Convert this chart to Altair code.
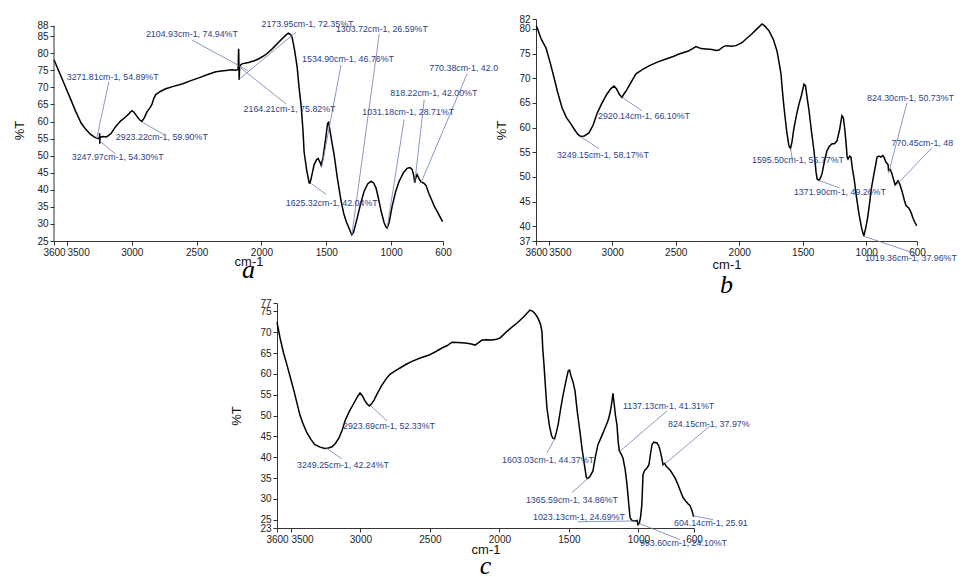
import altair as alt
import pandas as pd

XTICKS = [3600, 3500, 3000, 2500, 2000, 1500, 1000, 600]

# ---------------- panel a ----------------
A_WN = [3600, 3560, 3520, 3480, 3432, 3390, 3355, 3320, 3290, 3265, 3250, 3248, 3247, 3245,
        3225, 3195, 3160, 3125, 3085, 3046, 3015, 3000, 2985, 2960, 2940, 2923, 2905, 2882,
        2860, 2845, 2830, 2815, 2780, 2738, 2680, 2612, 2550, 2483, 2420, 2352, 2290, 2227,
        2195, 2180, 2176, 2172, 2168, 2150, 2100, 2050, 2020, 1970, 1917, 1860, 1812, 1793,
        1775, 1763, 1745, 1725, 1710, 1694, 1680, 1671, 1650, 1632, 1625, 1610, 1594, 1575,
        1563, 1550, 1540, 1525, 1505, 1490, 1482, 1470, 1455, 1440, 1415, 1386, 1365, 1347,
        1320, 1304, 1290, 1262, 1235, 1208, 1180, 1154, 1135, 1116, 1095, 1077, 1055, 1039,
        1031, 1015, 992, 965, 938, 905, 877, 855, 838, 825, 818, 810, 800, 785, 770, 750,
        731, 710, 684, 665, 645, 625, 607, 600]
A_T = [78.1, 74.5, 70.9, 67.3, 62.9, 59.5, 57.7, 56.3, 55.5, 55.0, 55.0, 56.6, 53.5, 55.3,
       55.6, 55.5, 56.5, 58.5, 60.2, 61.4, 62.6, 63.2, 62.8, 61.5, 60.5, 60.0, 61.0, 62.9,
       64.0, 65.0, 66.8, 67.9, 68.8, 69.6, 70.3, 71.0, 71.9, 72.8, 73.7, 74.6, 74.9, 75.2,
       75.0, 75.3, 81.3, 72.2, 76.3, 76.9, 77.3, 77.9, 78.4, 79.5, 81.3, 83.5, 85.3, 85.9,
       85.5, 84.6, 81.0, 76.0, 70.0, 64.5, 57.5, 51.0, 45.5, 42.0, 42.0, 44.5, 47.4, 48.8,
       49.2, 48.2, 47.2, 49.5, 55.0, 59.5, 59.8, 57.0, 53.5, 50.4, 43.5, 36.7, 33.0, 30.8,
       28.3, 26.8, 27.5, 31.7, 36.0, 39.6, 41.8, 42.5, 42.0, 40.5, 37.0, 33.7, 30.5, 29.0,
       28.8, 30.5, 35.2, 39.5, 42.5, 45.0, 46.3, 46.5, 46.0, 44.0, 42.0, 43.5, 44.5, 43.3,
       42.3, 42.0, 41.3, 39.0, 36.7, 35.0, 33.7, 32.2, 30.9, 30.8]
A_LABEL = ["3271.81cm-1, 54.89%T", "3247.97cm-1, 54.30%T", "2923.22cm-1, 59.90%T",
           "2104.93cm-1, 74.94%T", "2173.95cm-1, 72.35%T", "2164.21cm-1, 75.82%T",
           "1534.90cm-1, 46.76%T", "1625.32cm-1, 42.04%T", "1303.72cm-1, 26.59%T",
           "1031.18cm-1, 28.71%T", "818.22cm-1, 42.00%T", "770.38cm-1, 42.0"]
A_PWN = [3271.81, 3247.97, 2923.22, 2104.93, 2173.95, 2164.21, 1534.90, 1625.32, 1303.72, 1031.18, 818.22, 770.38]
A_PT = [54.89, 54.30, 59.90, 74.94, 72.35, 75.82, 46.76, 42.04, 26.59, 28.71, 42.00, 42.00]
A_LWN = [3502, 3463, 3123, 2891, 2000, 2138, 1687, 1813, 1426, 1223, 1006, 706]
A_LT = [73.1, 49.5, 55.6, 85.6, 88.6, 63.8, 78.4, 36.1, 87.1, 62.9, 68.4, 75.7]
A_EWN = [3177, 3123, 2753, 2537, 1734, 1811, 1386, 1502, 1092, 900, 745, 414]
A_ET = [71.6, 50.4, 56.2, 83.9, 86.2, 65.2, 76.6, 38.7, 85.6, 60.6, 66.4, 74.0]
A_YTICKS = [25, 30, 35, 40, 45, 50, 55, 60, 65, 70, 75, 80, 85, 88]

# ---------------- panel b ----------------
B_WN = [3600, 3592, 3560, 3521, 3490, 3458, 3430, 3395, 3360, 3324, 3300, 3270, 3249, 3220,
        3183, 3150, 3120, 3080, 3041, 3010, 2986, 2965, 2945, 2923, 2905, 2891, 2860, 2813,
        2760, 2710, 2640, 2576, 2520, 2474, 2400, 2340, 2300, 2260, 2214, 2180, 2159, 2130,
        2104, 2060, 2025, 1978, 1940, 1899, 1860, 1820, 1800, 1765, 1730, 1702, 1685, 1671,
        1660, 1647, 1625, 1608, 1596, 1585, 1569, 1549, 1529, 1510, 1490, 1478, 1465, 1450,
        1430, 1411, 1395, 1387, 1372, 1360, 1348, 1330, 1309, 1290, 1269, 1250, 1230, 1210,
        1191, 1180, 1168, 1159, 1150, 1143, 1130, 1120, 1108, 1096, 1077, 1057, 1035, 1019,
        1005, 990, 978, 960, 939, 925, 915, 900, 885, 870, 860, 845, 828, 824, 810, 797,
        785, 773, 760, 750, 735, 718, 700, 687, 665, 647, 630, 615, 605, 600]
B_T = [80.5, 80.3, 78.0, 76.1, 73.3, 70.1, 67.2, 64.0, 62.0, 60.7, 59.7, 58.6, 58.2, 58.3,
       58.9, 60.5, 62.8, 65.0, 66.8, 67.9, 68.4, 67.8, 66.8, 66.1, 66.9, 67.4, 68.8, 70.9,
       71.8, 72.5, 73.3, 73.9, 74.4, 74.9, 75.5, 76.4, 76.0, 75.9, 75.8, 75.6, 75.7, 76.3,
       76.6, 76.5, 76.6, 77.2, 78.1, 79.0, 80.0, 81.0, 80.6, 79.6, 77.8, 75.5, 73.0, 70.9,
       67.5, 64.0, 59.0, 56.2, 55.8, 57.0, 59.9, 62.5, 64.8, 66.5, 68.8, 68.5, 66.0, 63.4,
       59.0, 55.3, 51.0, 49.6, 49.3, 49.8, 50.6, 53.0, 55.3, 56.2, 56.7, 56.7, 57.3, 59.5,
       62.4, 62.0, 59.5, 57.0, 54.0, 53.6, 54.2, 54.0, 51.5, 49.8, 46.0, 42.5, 39.5, 38.0,
       39.5, 41.5, 43.7, 47.5, 50.6, 52.5, 54.0, 54.2, 54.0, 54.3, 54.0, 53.0, 52.5, 51.3,
       51.5, 50.6, 49.5, 48.4, 48.8, 49.2, 48.5, 47.1, 45.3, 44.2, 43.7, 42.8, 41.5, 40.7,
       40.2, 40.3]
B_LABEL = ["3249.15cm-1, 58.17%T", "2920.14cm-1, 66.10%T", "1595.50cm-1, 55.77%T",
           "1371.90cm-1, 49.26%T", "1019.36cm-1, 37.96%T", "824.30cm-1, 50.73%T",
           "770.45cm-1, 48"]
B_PWN = [3249.15, 2920.14, 1595.50, 1371.90, 1019.36, 824.30, 770.45]
B_PT = [58.17, 66.10, 55.77, 49.26, 37.96, 50.73, 48.15]
B_LWN = [3435, 3112, 1899, 1569, 1010, 994, 800]
B_LT = [54.4, 62.4, 53.4, 47.0, 33.5, 66.0, 56.9]
B_EWN = [3104, 2765, 1584, 1214, 608, 679, 482]
B_ET = [55.7, 63.4, 53.8, 47.8, 34.4, 65.0, 55.9]
B_YTICKS = [37, 40, 45, 50, 55, 60, 65, 70, 75, 80, 82]

# ---------------- panel c ----------------
C_WN = [3600, 3578, 3553, 3528, 3503, 3478, 3455, 3435, 3410, 3384, 3355, 3327, 3290, 3255,
        3230, 3204, 3180, 3154, 3130, 3111, 3080, 3046, 3020, 3003, 2985, 2967, 2950, 2935,
        2920, 2902, 2875, 2845, 2815, 2787, 2750, 2715, 2670, 2629, 2570, 2506, 2460, 2413,
        2375, 2341, 2300, 2247, 2210, 2175, 2150, 2125, 2090, 2053, 2020, 1996, 1970, 1945,
        1910, 1873, 1830, 1800, 1780, 1760, 1740, 1722, 1705, 1694, 1688, 1679, 1668, 1658,
        1640, 1625, 1614, 1603, 1590, 1578, 1560, 1542, 1520, 1505, 1495, 1485, 1470, 1456,
        1440, 1420, 1406, 1390, 1375, 1366, 1350, 1327, 1310, 1291, 1265, 1240, 1220, 1204,
        1192, 1183, 1175, 1165, 1154, 1145, 1137, 1125, 1111, 1095, 1082, 1070, 1060, 1046,
        1023, 1010, 1003, 994, 985, 975, 967, 955, 938, 924, 912, 902, 890, 866, 855, 845,
        833, 823, 810, 800, 787, 770, 751, 733, 715, 697, 679, 660, 640, 629, 615, 604, 600]
C_T = [72.4, 68.6, 65.0, 62.1, 59.0, 55.9, 52.8, 50.1, 47.8, 45.8, 44.2, 43.0, 42.4, 42.1,
       42.2, 42.5, 43.3, 44.6, 46.6, 48.7, 51.0, 53.0, 54.6, 55.4, 54.7, 53.5, 52.7, 52.3,
       52.8, 53.7, 55.5, 57.3, 58.8, 59.9, 60.7, 61.4, 62.3, 63.0, 63.8, 64.5, 65.3, 66.2,
       66.8, 67.6, 67.5, 67.4, 67.2, 66.9, 67.5, 68.1, 68.2, 68.1, 68.3, 68.6, 69.4, 70.2,
       71.2, 72.2, 73.5, 74.6, 75.3, 75.0, 74.3, 73.3, 72.0, 70.2, 66.0, 62.1, 56.5, 51.8,
       47.5, 45.2, 44.5, 44.4, 46.0, 47.7, 51.5, 54.9, 58.5, 60.7, 60.9, 59.5, 58.0, 55.9,
       51.0, 46.0, 42.2, 38.5, 35.2, 34.9, 35.3, 36.7, 40.0, 43.0, 45.0, 47.0, 48.6, 50.6,
       53.0, 55.3, 53.0, 50.0, 47.7, 43.5, 41.5, 40.8, 39.8, 37.0, 33.4, 29.0, 25.5, 24.8,
       24.7, 24.8, 23.8, 24.1, 25.5, 28.6, 35.8, 36.8, 37.4, 38.2, 41.0, 43.0, 43.6, 43.4,
       42.8, 41.8, 40.0, 38.2, 38.5, 37.8, 37.4, 36.8, 35.8, 34.8, 33.4, 31.8, 30.3, 29.5,
       28.7, 28.4, 27.2, 25.9, 26.0]
C_LABEL = ["3249.25cm-1, 42.24%T", "2923.69cm-1, 52.33%T", "1603.03cm-1, 44.37%T",
           "1365.59cm-1, 34.86%T", "1137.13cm-1, 41.31%T", "824.15cm-1, 37.97%",
           "1023.13cm-1, 24.69%T", "993.60cm-1, 24.10%T", "604.14cm-1, 25.91"]
C_PWN = [3249.25, 2923.69, 1603.03, 1365.59, 1137.13, 824.15, 1023.13, 993.60, 604.14]
C_PT = [42.24, 52.33, 44.37, 34.86, 41.31, 37.97, 24.69, 24.10, 25.91]
C_LWN = [3456, 3125, 1981, 1809, 1111, 787, 1758, 989, 744]
C_LT = [38.2, 47.5, 39.4, 29.8, 52.3, 48.0, 25.7, 19.5, 24.3]
C_EWN = [3132, 2809, 1658, 1478, 794, 485, 1435, 701, 463]
C_ET = [39.6, 48.7, 41.0, 31.5, 51.1, 47.5, 24.5, 20.2, 25.0]
C_YTICKS = [23, 25, 30, 35, 40, 45, 50, 55, 60, 65, 70, 75, 77]

ANN_TEXT = "#2b3f8a"
ANN_LINE = "#6a7db3"
AXIS_COLOR = "#333"


def panel(wn, t, lab, pwn, pt, lwn, lt, ewn, et, ydom, yticks, w, h, letter,
          ytitle_pad, xtitle_pad, letter_offset, draw_domain=True):
    curve = pd.DataFrame({"wn": wn, "t": t, "i": list(range(len(wn)))})
    ann = pd.DataFrame({"txt": lab, "pw": pwn, "pt": pt, "lw": lwn, "lt": lt, "ew": ewn, "et": et})
    xs = alt.Scale(domain=[3600, 600], nice=False, zero=False)
    ys = alt.Scale(domain=ydom, nice=False, zero=False)
    xax = alt.Axis(values=XTICKS, format="d", title="cm-1", labelOverlap=False,
                   labelAlign=alt.expr("datum.value == 3500 ? 'left' : 'center'"),
                   titlePadding=xtitle_pad, labelPadding=2)
    yax = alt.Axis(values=yticks, format="d", title="%T", labelOverlap=False,
                   titlePadding=ytitle_pad, labelPadding=2, domain=draw_domain)
    line = alt.Chart(curve).mark_line(color="black", strokeWidth=1.5).encode(
        x=alt.X("wn:Q", scale=xs, axis=xax),
        y=alt.Y("t:Q", scale=ys, axis=yax),
        order="i:Q",
    )
    lead = alt.Chart(ann).mark_rule(color=ANN_LINE, strokeWidth=0.8).encode(
        x=alt.X("pw:Q", scale=xs, axis=xax),
        y=alt.Y("pt:Q", scale=ys, axis=yax),
        x2="ew:Q", y2="et:Q",
    )
    txt = alt.Chart(ann).mark_text(
        align="left", baseline="middle", fontSize=8.85, color=ANN_TEXT, font="Liberation Sans"
    ).encode(
        x=alt.X("lw:Q", scale=xs, axis=xax),
        y=alt.Y("lt:Q", scale=ys, axis=yax),
        text="txt:N",
    )
    layers = [line, lead, txt]
    if not draw_domain:
        # left axis line running only between the first and last tick values
        yline = pd.DataFrame({"x": [XTICKS[0]], "y1": [yticks[0]], "y2": [yticks[-1]]})
        layers.append(alt.Chart(yline).mark_rule(color=AXIS_COLOR, strokeWidth=1).encode(
            x=alt.X("x:Q", scale=xs, axis=xax),
            y=alt.Y("y1:Q", scale=ys, axis=yax),
            y2="y2:Q",
        ))
    return alt.layer(*layers).properties(
        width=w, height=h,
        title=alt.TitleParams(letter, orient="bottom", anchor="middle", font="Liberation Serif",
                              fontStyle="italic", fontSize=26, fontWeight="normal",
                              color="black", offset=letter_offset),
    )


pa = panel(A_WN, A_T, A_LABEL, A_PWN, A_PT, A_LWN, A_LT, A_EWN, A_ET,
           [25, 90.04], A_YTICKS, 389, 222, "a", 10, -2, -11, draw_domain=False)
pb = panel(B_WN, B_T, B_LABEL, B_PWN, B_PT, B_LWN, B_LT, B_EWN, B_ET,
           [37, 82], B_YTICKS, 381, 222, "b", 10, 1, 1)
pc = panel(C_WN, C_T, C_LABEL, C_PWN, C_PT, C_LWN, C_LT, C_EWN, C_ET,
           [23, 77], C_YTICKS, 417, 225, "c", 16, -1, -3)

spacer = alt.Chart(pd.DataFrame({"v": [0]})).mark_point(opacity=0).encode(
    x=alt.X("v:Q", axis=None), y=alt.Y("v:Q", axis=None)
).properties(width=213, height=10)

chart = alt.vconcat(
    alt.hconcat(pa, pb, spacing=93, bounds="flush"),
    alt.hconcat(spacer, pc, spacing=10, bounds="flush"),
    spacing=0,
).properties(
    padding={"left": 5, "top": 6, "right": 0, "bottom": 0},
).configure_view(stroke=None).configure_axis(
    grid=False, labelFont="Liberation Sans", labelFontSize=10, labelColor="#222",
    titleFont="Liberation Sans", titleFontSize=13, titleFontWeight="normal", titleColor="#111",
    domainColor=AXIS_COLOR, tickColor=AXIS_COLOR, tickSize=4,
)

chart.save("out.html", embed_options={"renderer": "svg", "actions": False})
